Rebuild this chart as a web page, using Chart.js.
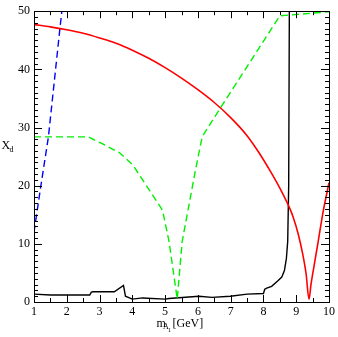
<!DOCTYPE html>
<html>
<head>
<meta charset="utf-8">
<script src="https://cdn.jsdelivr.net/npm/chart.js@4/dist/chart.umd.min.js"></script>
<style>
  html, body { margin: 0; padding: 0; background: #fff; }
  #wrap { width: 338px; height: 337px; }
</style>
</head>
<body>
<div id="wrap"><canvas id="c"></canvas></div>
<script>
// values
const redX = [1, 1.5, 2, 2.5, 3, 3.5, 4, 4.5, 5, 5.5, 6, 6.5, 7, 7.5, 7.85, 8.2, 8.5, 8.78, 8.9, 9.06, 9.2, 9.3, 9.39, 9.45, 9.52, 9.67, 9.82, 10];
const redY = [47.7, 47.3, 46.8, 46.2, 45.4, 44.5, 43.3, 41.9, 40.3, 38.5, 36.5, 34.3, 31.7, 28.6, 25.8, 22.6, 19.6, 16.4, 14.7, 11.7, 8.2, 4.9, 0.5, 3.0, 5.4, 10.4, 15.5, 20.5];

const greenX = [1, 2.65, 3.05, 3.6, 4.01, 4.92, 5.12, 5.37, 5.52, 5.91, 6.13, 6.69, 8.5, 10];
const greenY = [28.4, 28.4, 27.3, 25.7, 23.6, 15.8, 10.4, 0.5, 10.4, 22.2, 28.4, 33.4, 49.2, 49.9];

const blueX = [1, 1.21, 1.44, 1.79, 1.85];
const blueY = [12, 20, 28.4, 47, 50];

const blackX = [1, 1.5, 2.7, 2.75, 2.8, 3.45, 3.73, 3.79, 4.0, 4.31, 5.0, 5.12, 6.03, 6.43, 6.99, 7.5, 8.0, 8.04, 8.1, 8.25, 8.45, 8.56, 8.64, 8.7, 8.74, 8.77, 8.79];
const blackY = [1.35, 1.2, 1.2, 1.7, 1.75, 1.75, 2.86, 1.0, 0.5, 0.7, 0.5, 0.6, 1.0, 0.8, 1.0, 1.35, 1.45, 2.2, 2.4, 2.7, 3.7, 4.3, 5.4, 7.5, 10.4, 20, 50];

const xTicks = [1, 2, 3, 4, 5, 6, 7, 8, 9, 10];
const yTicks = [0, 10, 20, 30, 40, 50];

const SERIF = '"Liberation Serif", "DejaVu Serif", serif';

function pts(xs, ys) { return xs.map((x, i) => ({ x, y: ys[i] })); }

// frame, inward ticks on all four sides, axis titles with subscripts
const framePlugin = {
  id: 'frame',
  afterDraw(chart) {
    const { ctx, chartArea: a, scales: { x, y } } = chart;
    ctx.save();
    ctx.strokeStyle = '#000';
    ctx.lineWidth = 1;
    ctx.strokeRect(Math.round(a.left) + 0.5, Math.round(a.top) + 0.5,
      Math.round(a.right - a.left), Math.round(a.bottom - a.top));

    ctx.beginPath();
    for (let v = 1; v <= 10.001; v += 0.5) {
      const px = Math.round(x.getPixelForValue(v)) + 0.5;
      const len = Number.isInteger(v) ? 7 : 4;
      ctx.moveTo(px, a.bottom); ctx.lineTo(px, a.bottom - len);
      ctx.moveTo(px, a.top); ctx.lineTo(px, a.top + len);
    }
    for (let v = 0; v <= 50; v += 1) {
      const py = Math.round(y.getPixelForValue(v)) + 0.5;
      const len = v % 10 === 0 ? 8 : 4;
      ctx.moveTo(a.left, py); ctx.lineTo(a.left + len, py);
      ctx.moveTo(a.right, py); ctx.lineTo(a.right - len, py);
    }
    ctx.stroke();

    ctx.fillStyle = '#000';
    ctx.textBaseline = 'alphabetic';
    ctx.textAlign = 'left';
    // y title: X_d
    ctx.font = '12px ' + SERIF;
    ctx.fillText('X', 1.5, 148.5);
    ctx.font = '8px ' + SERIF;
    ctx.fillText('d', 9.5, 152);
    // x title: m_{A_1} [GeV]
    ctx.font = '12px ' + SERIF;
    ctx.fillText('m', 156.5, 326.5);
    ctx.font = '8px ' + SERIF;
    ctx.fillText('A', 163, 329);
    ctx.font = '6px ' + SERIF;
    ctx.fillText('1', 168, 331.5);
    ctx.font = '12px ' + SERIF;
    ctx.fillText('[GeV]', 172.5, 326.5);
    ctx.restore();
  }
};

new Chart(document.getElementById('c'), {
  type: 'line',
  data: {
    datasets: [
      {
        label: 'red',
        data: pts(redX, redY),
        borderColor: '#ff0000',
        borderWidth: 1.6,
        cubicInterpolationMode: 'monotone'
      },
      {
        label: 'green',
        data: pts(greenX, greenY),
        borderColor: '#00f000',
        borderWidth: 1.4,
        borderDash: [7, 4]
      },
      {
        label: 'blue',
        data: pts(blueX, blueY),
        borderColor: '#0000ff',
        borderWidth: 1.4,
        borderDash: [7, 4]
      },
      {
        label: 'black',
        data: pts(blackX, blackY),
        borderColor: '#000000',
        borderWidth: 1.4
      }
    ]
  },
  options: {
    responsive: true,
    maintainAspectRatio: false,
    animation: false,
    devicePixelRatio: 1,
    layout: { padding: { left: 0, right: 7, top: 5, bottom: 0 } },
    elements: { point: { radius: 0 }, line: { tension: 0, fill: false } },
    scales: {
      x: {
        type: 'linear',
        min: 1,
        max: 10,
        afterFit: (s) => { s.height = 35; },
        afterBuildTicks: (s) => { s.ticks = xTicks.map(v => ({ value: v })); },
        ticks: { color: '#000', font: { family: SERIF, size: 12 }, padding: 3, maxRotation: 0 },
        grid: { display: false, drawTicks: false },
        border: { display: false }
      },
      y: {
        type: 'linear',
        min: 0,
        max: 50,
        afterFit: (s) => { s.width = 34; },
        afterBuildTicks: (s) => { s.ticks = yTicks.map(v => ({ value: v })); },
        ticks: { color: '#000', font: { family: SERIF, size: 12 }, padding: 4 },
        grid: { display: false, drawTicks: false },
        border: { display: false }
      }
    },
    plugins: {
      legend: { display: false },
      tooltip: { enabled: false }
    }
  },
  plugins: [framePlugin]
});
</script>
</body>
</html>
